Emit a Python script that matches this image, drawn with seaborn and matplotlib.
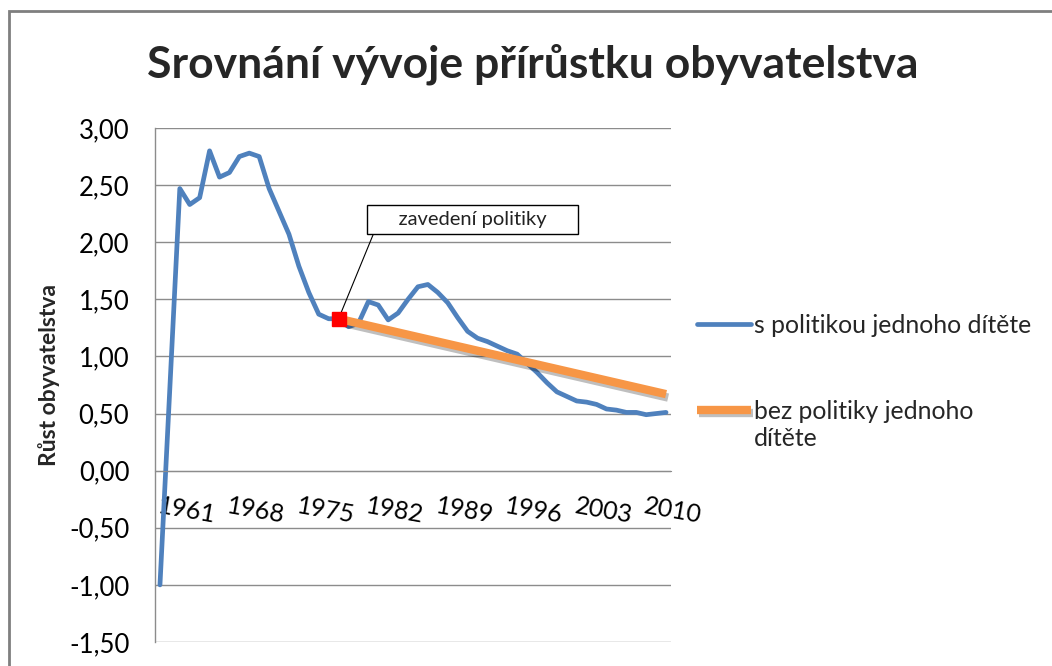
import numpy as np
import pandas as pd
import seaborn as sns
import matplotlib.pyplot as plt
import matplotlib.patheffects as pe
from matplotlib.patches import Rectangle
from matplotlib.lines import Line2D
from matplotlib.legend_handler import HandlerLine2D

# data
roky = list(range(1961, 2013))
s_politikou = [-1.00, 0.73, 2.47, 2.33, 2.39, 2.80, 2.57, 2.61, 2.75, 2.78,
               2.75, 2.47, 2.27, 2.07, 1.79, 1.56, 1.37, 1.33, 1.33, 1.26,
               1.29, 1.48, 1.45, 1.32, 1.38, 1.50, 1.61, 1.63, 1.56, 1.47,
               1.34, 1.22, 1.16, 1.13, 1.09, 1.05, 1.02, 0.94, 0.86, 0.77,
               0.69, 0.65, 0.61, 0.60, 0.58, 0.54, 0.53, 0.51, 0.51, 0.49,
               0.50, 0.51]
bez_roky = [1979, 2012]
bez_politiky = [1.33, 0.67]
zavedeni_rok = 1979
zavedeni_hodnota = 1.33
popisky_let = [1961, 1968, 1975, 1982, 1989, 1996, 2003, 2010]
y_ticks = [-1.5, -1.0, -0.5, 0.0, 0.5, 1.0, 1.5, 2.0, 2.5, 3.0]

s1 = 's politikou jednoho dítěte'
s2 = 'bez politiky jednoho dítěte'
df = pd.DataFrame({
    'rok': roky + bez_roky,
    'hodnota': s_politikou + bez_politiky,
    'řada': [s1] * len(roky) + [s2] * len(bez_roky),
})

MODRA = '#4F81BD'
ORANZOVA = '#F79646'
stin = [pe.SimpleLineShadow(offset=(1.5, -2.5), alpha=0.25), pe.Normal()]

sns.set_style('white')
plt.rcParams['font.family'] = ['Lato', 'DejaVu Sans']

W, H = 1052, 666
fig = plt.figure(figsize=(W / 100, H / 100), dpi=100)
ax = fig.add_axes([155 / W, 1 - 642 / H, (671 - 155) / W, (642 - 128) / H])
# x axis crosses at zero like in the original; set before tick labels (it resets them)
ax.spines['bottom'].set_position(('data', 0))

sns.lineplot(data=df, x='rok', y='hodnota', hue='řada', size='řada',
             palette={s1: MODRA, s2: ORANZOVA},
             sizes={s1: 3.4, s2: 6.0}, legend=False, ax=ax)
ax.lines[1].set_path_effects(stin)
ax.lines[1].set_solid_capstyle('butt')
ax.lines[0].set_solid_joinstyle('round')

ax.plot([zavedeni_rok], [zavedeni_hodnota], marker='s', ms=10, color='#FF0000',
        mec='#FF0000', zorder=5)

ax.annotate('     zavedení politiky     ', xy=(zavedeni_rok, zavedeni_hodnota),
            xytext=(1992.5, 2.20), ha='center', va='center', fontsize=14.5,
            color='#222222',
            bbox=dict(boxstyle='square,pad=0.3', fc='white', ec='black', lw=1),
            arrowprops=dict(arrowstyle='-', color='black', lw=0.8,
                            relpos=(0.015, 0.0), shrinkA=0, shrinkB=4))

ax.set_xlim(1960.5, 2012.5)
ax.set_ylim(-1.5, 3.0)
ax.set_yticks(y_ticks)
ax.set_yticklabels([f'{v:.2f}'.replace('.', ',') for v in y_ticks], fontsize=18.5)
ax.set_xticks(popisky_let)
ax.set_xticklabels([str(r) for r in popisky_let], fontsize=18, rotation=-10,
                   ha='left', va='top', rotation_mode='anchor')
ax.tick_params(axis='both', length=0, colors='black')
ax.tick_params(axis='x', pad=17)
ax.tick_params(axis='y', pad=18.5)
ax.grid(axis='y', color='#8C8C8C', lw=1)
ax.grid(axis='x', visible=False)
for s in ['top', 'right']:
    ax.spines[s].set_visible(False)
ax.spines['bottom'].set_color('#8C8C8C')
ax.spines['left'].set_color('#8C8C8C')
ax.spines['left'].set_linewidth(1)
ax.set_xlabel('')
ax.set_ylabel('Růst obyvatelstva', fontsize=16.5, fontweight='bold')
ax.yaxis.set_label_coords(-0.184, 0.52)

fig.text(533 / W, 1 - 64 / H, 'Srovnání vývoje přírůstku obyvatelstva',
         ha='center', va='center', fontsize=32, fontweight='bold')


class HandlerPrvniRadek(HandlerLine2D):
    # keep the legend line level with the first line of a wrapped label
    def create_artists(self, legend, orig_handle, xdescent, ydescent,
                       width, height, fontsize, trans):
        return super().create_artists(legend, orig_handle, xdescent,
                                      ydescent - 1.3 * fontsize, width, height,
                                      fontsize, trans)


h1 = Line2D([], [], color=MODRA, lw=3.4)
h2 = Line2D([], [], color=ORANZOVA, lw=6.0, solid_capstyle='butt', path_effects=stin)
fig.legend([h1, h2], [s1, 'bez politiky jednoho\ndítěte'],
           loc='upper left', bbox_to_anchor=(697 / W, 1 - 314 / H),
           frameon=False, fontsize=17.8, handlelength=2.2, handletextpad=0.1,
           labelspacing=2.55, borderpad=0, borderaxespad=0,
           handler_map={h2: HandlerPrvniRadek()})

fig.add_artist(Rectangle((9 / W, -0.2), 1.2, 1.2 - 11 / H,
                         transform=fig.transFigure, fill=False,
                         ec='#7F7F7F', lw=2))

fig.savefig('out.png', dpi=100)
